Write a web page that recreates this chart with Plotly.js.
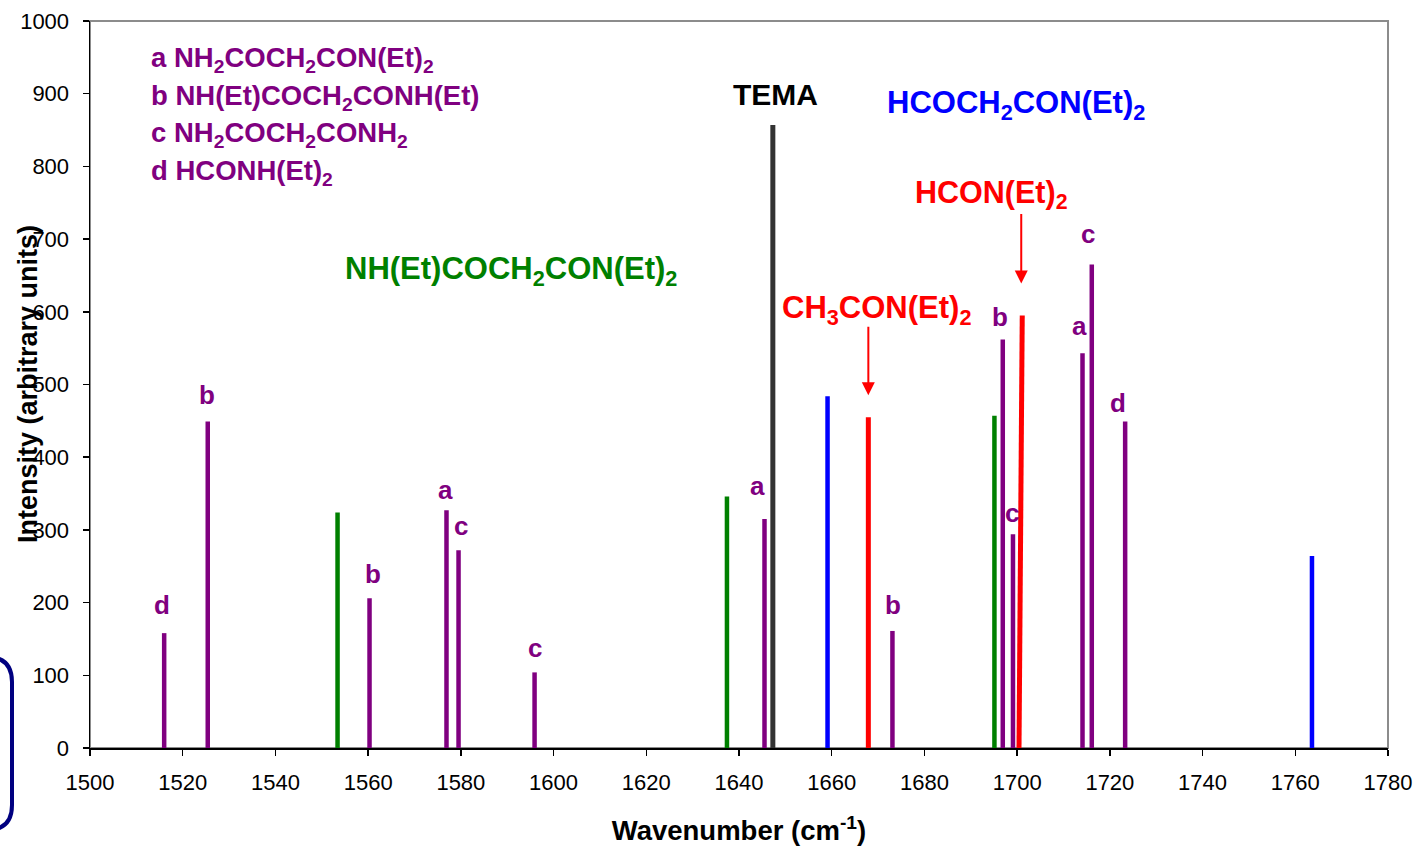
<!DOCTYPE html>
<html><head><meta charset="utf-8">
<script src="https://cdn.plot.ly/plotly-3.0.1.min.js"></script>
<style>html,body{margin:0;padding:0;background:#fff}#chart{width:1419px;height:847px}</style>
</head><body><div id="chart"></div>
<script>
// ---- data (wavenumber in cm-1, intensity in arbitrary units) ----
const productWavenumbers = [1516.0, 1525.4, 1560.3, 1576.9, 1579.5, 1595.9, 1645.5, 1673.1, 1696.9, 1699.1, 1714.1, 1716.1, 1723.3];
const productIntensities = [158, 449, 206, 327, 272, 104, 315, 161, 562, 294, 543, 665, 449];
const productLabels = ['d', 'b', 'b', 'a', 'c', 'c', 'a', 'b', 'b', 'c', 'a', 'c', 'd'];
const greenWavenumbers = [1553.4, 1637.4, 1695.1];
const greenIntensities = [324, 346, 457];
const blueWavenumbers = [1659.1, 1763.6];
const blueIntensities = [484, 264];
const redWavenumbers = [1667.9, 1700.4];
const redTopWavenumbers = [1667.9, 1701.1];
const redIntensities = [455, 595];
const temaWavenumbers = [1647.3];
const temaIntensities = [857];
const xTickValues = [1500, 1520, 1540, 1560, 1580, 1600, 1620, 1640, 1660, 1680, 1700, 1720, 1740, 1760, 1780];
const yTickValues = [0, 100, 200, 300, 400, 500, 600, 700, 800, 900, 1000];
const legendLines = [
  'a NH<sub>2</sub>COCH<sub>2</sub>CON(Et)<sub>2</sub>',
  'b NH(Et)COCH<sub>2</sub>CONH(Et)',
  'c NH<sub>2</sub>COCH<sub>2</sub>CONH<sub>2</sub>',
  'd HCONH(Et)<sub>2</sub>'
];

// ---- layout helpers ----
const W = 1419, H = 847, ML = 90, MR = 31, MT = 21, MB = 99;
const PW = W - ML - MR, PH = H - MT - MB;
const px = x => (x - ML) / PW;
const py = y => (H - MB - y) / PH;
const FONT = 'Arial, "Liberation Sans", sans-serif';
const PURPLE = '#800080', GREEN = '#008000', BLUE = '#0000FF', RED = '#FF0000', DARK = '#333333';

function sticks(xs, ys, xsTop) {
  const x = [], y = [];
  xs.forEach((v, i) => { x.push(v, xsTop ? xsTop[i] : v, null); y.push(0, ys[i], null); });
  return { x, y };
}
function stickTrace(name, xs, ys, color, width, xsTop) {
  const s = sticks(xs, ys, xsTop);
  return { type: 'scatter', mode: 'lines', name, x: s.x, y: s.y,
    line: { color, width }, hoverinfo: 'skip', showlegend: false };
}

const traces = [
  stickTrace('NH(Et)COCH2CON(Et)2', greenWavenumbers, greenIntensities, GREEN, 4.5),
  stickTrace('HCOCH2CON(Et)2', blueWavenumbers, blueIntensities, BLUE, 4.5),
  stickTrace('CH3CON(Et)2 / HCON(Et)2', redWavenumbers, redIntensities, RED, 5, redTopWavenumbers),
  stickTrace('products a-d', productWavenumbers, productIntensities, PURPLE, 4.5),
  stickTrace('TEMA', temaWavenumbers, temaIntensities, DARK, 5)
];

// label offsets in pixels: [dx, gap above line top]
const labelOffsets = [[-2, 28], [-1, 27], [3, 24], [-1, 17], [2, 21], [0, 21], [-7, 30], [1, 26], [-3, 22], [-1, 18], [-3, 24], [-4, 28], [-7, 19]];

const annotations = [];
productWavenumbers.forEach((x, i) => {
  const lab = productLabels[i];
  const xh = (lab === 'a' || lab === 'c') ? 3 : 0;
  annotations.push({ x, y: productIntensities[i], xref: 'x', yref: 'y', text: '<b>' + lab + '</b>',
    showarrow: false, xanchor: 'center', yanchor: 'middle',
    xshift: labelOffsets[i][0], yshift: labelOffsets[i][1] + xh,
    font: { family: FONT, size: 26, color: PURPLE } });
});

function textAnn(text, x, y, color, size, anchor) {
  annotations.push({ x: px(x), y: py(y), xref: 'paper', yref: 'paper', text: '<b>' + text + '</b>',
    showarrow: false, xanchor: anchor || 'left', yanchor: 'middle',
    font: { family: FONT, size, color } });
}
legendLines.forEach((t, i) => textAnn(t, 149, 59 + 38 * i, PURPLE, 27.5));
textAnn('NH(Et)COCH<sub>2</sub>CON(Et)<sub>2</sub>', 343, 271, GREEN, 31);
textAnn('TEMA', 775, 94, '#000000', 30, 'center');
textAnn('HCOCH<sub>2</sub>CON(Et)<sub>2</sub>', 885, 105, BLUE, 31);
textAnn('HCON(Et)<sub>2</sub>', 913, 194, RED, 30.5);
textAnn('CH<sub>3</sub>CON(Et)<sub>2</sub>', 780, 310, RED, 31);

// arrows pointing to the two red lines
annotations.push({ x: redTopWavenumbers[0], y: redIntensities[0], xref: 'x', yref: 'y', text: '',
  showarrow: true, arrowhead: 2, arrowsize: 1.3, arrowwidth: 2, arrowcolor: RED,
  ax: 0, ay: -70, yshift: 22, standoff: 0 });
annotations.push({ x: redTopWavenumbers[1], y: redIntensities[1], xref: 'x', yref: 'y', text: '',
  showarrow: true, arrowhead: 2, arrowsize: 1.3, arrowwidth: 2, arrowcolor: RED,
  ax: 0, ay: -71, yshift: 32, xshift: -1, standoff: 0 });

// y axis title
annotations.push({ x: px(28), y: py(384), xref: 'paper', yref: 'paper',
  text: '<b>Intensity (arbitrary units)</b>', textangle: -90, showarrow: false,
  xanchor: 'center', yanchor: 'middle', font: { family: FONT, size: 27, color: '#000' } });

// rounded navy frame partly visible at the left edge
const r = 25, xr = 12, xl = -80, yt = 657, yb = 830;
const navyPath = `M ${px(xl)},${py(yt)} L ${px(xr - r)},${py(yt)} Q ${px(xr)},${py(yt)} ${px(xr)},${py(yt + r)} ` +
  `L ${px(xr)},${py(yb - r)} Q ${px(xr)},${py(yb)} ${px(xr - r)},${py(yb)} L ${px(xl)},${py(yb)}`;

const axisCommon = {
  showgrid: false, zeroline: false, showline: true, linecolor: '#000', linewidth: 1.5,
  ticks: 'outside', ticklen: 6, tickwidth: 1.5, tickcolor: '#000',
  tickfont: { family: FONT, size: 22, color: '#000' }, fixedrange: true
};

const layout = {
  width: W, height: H,
  margin: { l: ML, r: MR, t: MT, b: MB, pad: 0 },
  paper_bgcolor: '#fff', plot_bgcolor: '#fff',
  showlegend: false,
  xaxis: Object.assign({}, axisCommon, {
    range: [1500, 1780], tickmode: 'array', tickvals: xTickValues, ticktext: xTickValues.map(String),
    ticklabelstandoff: 8,
    title: { text: '<b>Wavenumber (cm<sup>-1</sup>)</b>', font: { family: FONT, size: 27.5, color: '#000' }, standoff: 27 }
  }),
  yaxis: Object.assign({}, axisCommon, {
    range: [0, 1000], tickmode: 'array', tickvals: yTickValues, ticktext: yTickValues.map(String),
    ticklabelstandoff: 9
  }),
  shapes: [
    { type: 'rect', xref: 'paper', yref: 'paper', x0: 0, x1: 1, y0: 0, y1: 1,
      line: { color: '#8c8c8c', width: 2 }, layer: 'below' },
    { type: 'path', xref: 'paper', yref: 'paper', path: navyPath,
      line: { color: '#000080', width: 4 }, fillcolor: 'rgba(0,0,0,0)', layer: 'above' }
  ],
  annotations
};

Plotly.newPlot('chart', traces, layout, { displayModeBar: false, staticPlot: true });
</script>
</body></html>
